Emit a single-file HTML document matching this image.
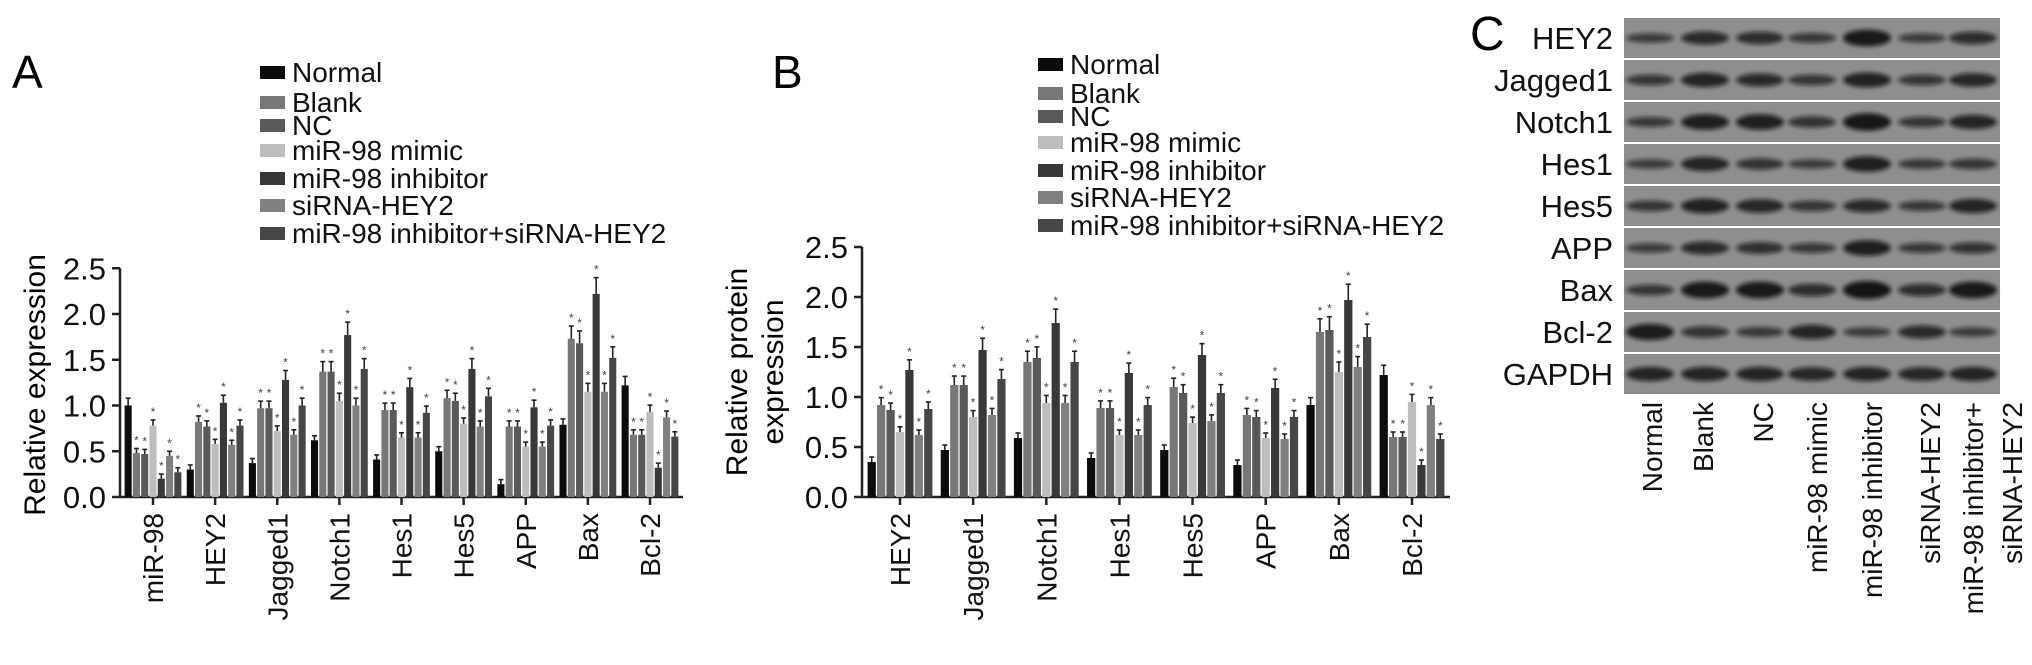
<!DOCTYPE html>
<html><head><meta charset="utf-8"><style>
html,body{margin:0;padding:0;background:#fff;}
svg{display:block;font-family:"Liberation Sans",Arial,sans-serif;}
</style></head><body>
<svg id="fig" width="2032" height="665" viewBox="0 0 2032 665" xmlns="http://www.w3.org/2000/svg">
<defs><filter id="blur" x="-20%" y="-50%" width="140%" height="200%"><feGaussianBlur stdDeviation="2.2"/></filter></defs>
<g id="panelA"></g>
<g id="panelB"></g>
<g id="panelC"></g>
</svg>
<script>
const groupsLegend = ["Normal","Blank","NC","miR-98 mimic","miR-98 inhibitor","siRNA-HEY2","miR-98 inhibitor+siRNA-HEY2"];
const groupColors = ["#0b0b0b","#777777","#595959","#bdbdbd","#383838","#808080","#464646"];

const catsA = ["miR-98","HEY2","Jagged1","Notch1","Hes1","Hes5","APP","Bax","Bcl-2"];
const valsA = [
 [1.0,0.48,0.47,0.78,0.20,0.45,0.27],
 [0.30,0.82,0.77,0.58,1.03,0.57,0.78],
 [0.37,0.97,0.97,0.72,1.28,0.68,1.00],
 [0.62,1.37,1.37,1.05,1.77,1.00,1.40],
 [0.41,0.95,0.95,0.65,1.20,0.65,0.92],
 [0.50,1.08,1.05,0.80,1.40,0.77,1.10],
 [0.14,0.77,0.77,0.55,0.98,0.55,0.78],
 [0.79,1.73,1.68,1.15,2.22,1.15,1.52],
 [1.22,0.68,0.68,0.93,0.32,0.87,0.66]
];
const ticksA = [0,0.5,1.0,1.5,2.0,2.5];
const tickLabelsA = ["0.0","0.5","1.0","1.5","2.0","2.5"];

const catsB = ["HEY2","Jagged1","Notch1","Hes1","Hes5","APP","Bax","Bcl-2"];
const valsB = [
 [0.35,0.92,0.87,0.65,1.27,0.62,0.88],
 [0.47,1.12,1.12,0.80,1.47,0.82,1.18],
 [0.59,1.35,1.39,0.94,1.74,0.94,1.35],
 [0.39,0.89,0.89,0.62,1.24,0.62,0.92],
 [0.47,1.10,1.04,0.74,1.42,0.76,1.04],
 [0.32,0.82,0.80,0.59,1.09,0.58,0.80],
 [0.92,1.65,1.67,1.25,1.97,1.30,1.60],
 [1.22,0.60,0.60,0.95,0.32,0.92,0.58]
];
const ticksB = [0,0.5,1.0,1.5,2.0,2.5];
const tickLabelsB = ["0.0","0.5","1.0","1.5","2.0","2.5"];

const blotRows = ["HEY2","Jagged1","Notch1","Hes1","Hes5","APP","Bax","Bcl-2","GAPDH"];
const blotIntensity = [
 [.3,.6,.55,.35,.9,.3,.55],
 [.4,.7,.6,.4,.75,.4,.65],
 [.35,.8,.8,.45,.95,.4,.7],
 [.3,.7,.45,.3,.8,.35,.4],
 [.4,.75,.65,.4,.6,.35,.7],
 [.3,.6,.5,.35,.8,.35,.45],
 [.4,.9,.9,.55,1,.55,.9],
 [.85,.45,.35,.7,.3,.6,.3],
 [.7,.7,.7,.65,.7,.65,.7]
];
const laneLabels = ["Normal","Blank","NC","miR-98 mimic","miR-98 inhibitor","siRNA-HEY2"];

const NS="http://www.w3.org/2000/svg";
function mk(tag,attrs,parent,text){const e=document.createElementNS(NS,tag);for(const k in attrs)e.setAttribute(k,attrs[k]);if(text!==undefined)e.textContent=text;parent.appendChild(e);return e;}

function drawChart(g,cfg){
  const {x0,x1,yBase,pxPerUnit,cats,vals,ticks,tickLabels,groupW,letter,letterX,legX,legY,legStep,titleLines,titleX,titleY,firstOff}=cfg;
  const yScale=v=>yBase-v*pxPerUnit;
  const n=cats.length;
  const step=(x1-x0-2*firstOff)/(n-1);
  const xCenter=i=>x0+firstOff+step*i;
  const t=mk('text',{x:letterX,y:88,'font-size':46},g,letter);
  
  
  groupsLegend.forEach((name,k)=>{
    const lg=mk('g',{},g);
    
    
    const yy=legY+legStep[k];
    mk('rect',{x:legX,y:yy-6,width:25,height:13,fill:groupColors[k]},lg);
    mk('text',{x:legX+32,y:yy+10,'font-size':28,fill:'#111'},lg,name);
  });
  titleLines.forEach((ln,k)=>{
    const at=mk('text',{x:0,y:0,'font-size':30,'text-anchor':'middle',transform:`translate(${titleX+k*36},${titleY}) rotate(-90)`},g,ln);
    
    
  });
  const ya=mk('line',{x1:x0,y1:yScale(ticks[ticks.length-1]),x2:x0,y2:yBase,stroke:'#222','stroke-width':2.5},g);
  
  
  ticks.forEach((tv,k)=>{
    mk('line',{x1:x0-8,y1:yScale(tv),x2:x0,y2:yScale(tv),stroke:'#222','stroke-width':2.5},g);
    const tl=mk('text',{x:x0-14,y:yScale(tv)+11,'font-size':31,'text-anchor':'end',fill:'#111'},g,tickLabels[k]);
    
    
  });
  const xa=mk('line',{x1:x0,y1:yBase,x2:x1,y2:yBase,stroke:'#222','stroke-width':2.5},g);
  
  
  const bw=groupW/7;
  cats.forEach((c,i)=>{
    const cx=xCenter(i);
    mk('line',{x1:cx,y1:yBase,x2:cx,y2:yBase+8,stroke:'#222','stroke-width':2.5},g);
    const cl=mk('text',{x:0,y:0,'font-size':28,'text-anchor':'end',fill:'#111',transform:`translate(${cx+10},${yBase+16}) rotate(-90)`},g,c);
    
    
    vals[i].forEach((v,k)=>{
      const bx=cx-groupW/2+k*bw;
      const top=yScale(v);
      const b=mk('rect',{x:bx+0.6,y:top,width:bw-1.2,height:yBase-top,fill:groupColors[k]},g);
      
      
      const err=Math.max(0.05,v*0.08);
      const et=yScale(v+err);
      mk('line',{x1:bx+bw/2,y1:top,x2:bx+bw/2,y2:et,stroke:'#222','stroke-width':1.6},g);
      mk('line',{x1:bx+bw/2-2.5,y1:et,x2:bx+bw/2+2.5,y2:et,stroke:'#222','stroke-width':1.6},g);
      if(k>0){
        mk('text',{x:bx+bw/2,y:et-4,'font-size':12,'text-anchor':'middle',fill:'#444'},g,'*');
      }
    });
  });
}

drawChart(document.getElementById('panelA'),{x0:120,x1:683,yBase:497,pxPerUnit:91.5,cats:catsA,vals:valsA,ticks:ticksA,tickLabels:tickLabelsA,groupW:58,letter:'A',letterX:12,legX:260,legY:72,legStep:[0,30,53,78,106,133,161],titleLines:['Relative expression'],titleX:45,titleY:385,firstOff:33});
drawChart(document.getElementById('panelB'),{x0:862,x1:1450,yBase:497,pxPerUnit:100,cats:catsB,vals:valsB,ticks:ticksB,tickLabels:tickLabelsB,groupW:66,letter:'B',letterX:772,legX:1038,legY:64,legStep:[0,29,52,78,106,133,161],titleLines:['Relative protein','expression'],titleX:747,titleY:372,firstOff:38});

(function(){
  const g=document.getElementById('panelC');
  const c=mk('text',{x:1470,y:50,'font-size':48},g,'C');
  
  
  const bx0=1624,bx1=2000,top=17,rh=42;
  const laneX=[1650,1705,1760,1812,1867,1922,1973];
  mk('rect',{x:bx0,y:top,width:bx1-bx0,height:rh*9,fill:'#fff'},g);
  blotRows.forEach((r,i)=>{
    const y=top+i*rh;
    const row=mk('g',{},g);
    
    
    mk('rect',{x:bx0,y:y+1,width:bx1-bx0,height:rh-2,fill:'#8e8e8e'},row);
    blotIntensity[i].forEach((v,k)=>{
      mk('ellipse',{cx:laneX[k],cy:y+rh/2,rx:24,ry:3+6*v,fill:'#111','fill-opacity':0.55+0.4*v,filter:'url(#blur)'},row);
    });
    mk('text',{x:1613,y:y+rh/2+11,'font-size':31,'text-anchor':'end',fill:'#111'},row,r);
  });
  const lx=[1652,1703,1763,1817,1872,1930];
  laneLabels.forEach((l,k)=>{
    const t=mk('text',{x:0,y:0,'font-size':28,'text-anchor':'end',fill:'#111',transform:`translate(${lx[k]+10},402) rotate(-90)`},g,l);
    
    
  });
  const t1=mk('text',{x:0,y:0,'font-size':28,'text-anchor':'end',fill:'#111',transform:`translate(1983,402) rotate(-90)`},g,'miR-98 inhibitor+');
  
  
  const t2=mk('text',{x:0,y:0,'font-size':28,'text-anchor':'end',fill:'#111',transform:`translate(2022,402) rotate(-90)`},g,'siRNA-HEY2');
  
  
})();
</script>
</body></html>
